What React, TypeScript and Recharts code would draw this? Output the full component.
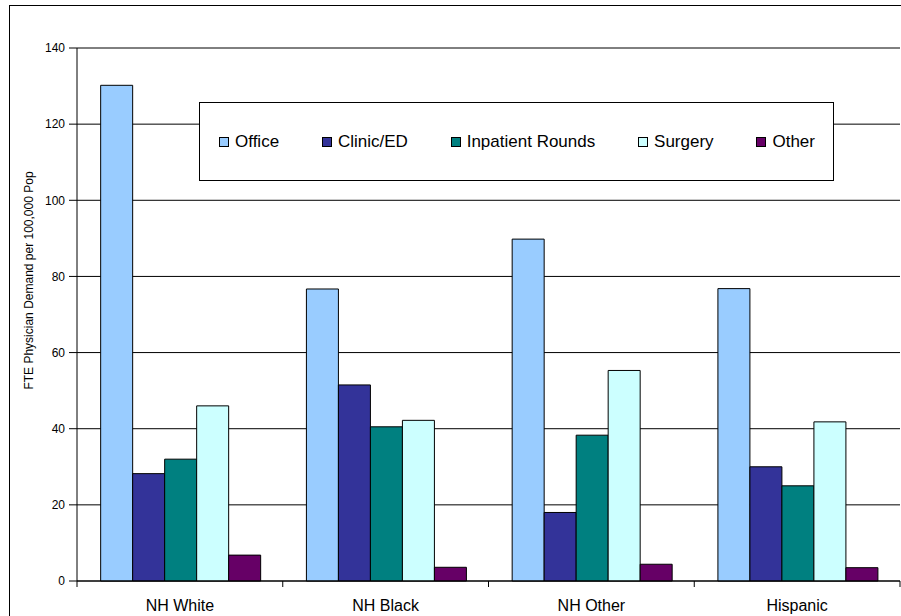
import React from "react"
import { Bar, BarChart, CartesianGrid, Legend, XAxis, YAxis } from "recharts"

const groups = ["NH White", "NH Black", "NH Other", "Hispanic"]
const office = [130.2, 76.7, 89.8, 76.8]
const clinic = [28.2, 51.5, 18.0, 30.0]
const inpatient = [32.0, 40.5, 38.3, 25.0]
const surgery = [46.0, 42.2, 55.3, 41.8]
const other = [6.8, 3.6, 4.4, 3.5]
const yTicks = [0, 20, 40, 60, 80, 100, 120, 140]

const seriesList = [
    { key: "Office", values: office, color: "#99CCFF" },
    { key: "Clinic/ED", values: clinic, color: "#333399" },
    { key: "Inpatient Rounds", values: inpatient, color: "#008080" },
    { key: "Surgery", values: surgery, color: "#CCFFFF" },
    { key: "Other", values: other, color: "#660066" },
]

const rows = groups.map((name, i) => {
    const row: Record<string, string | number> = { name }
    seriesList.forEach(s => { row[s.key] = s.values[i] })
    return row
})

const FONT = "'Liberation Sans', Arial, sans-serif"

const CategoryTick = (props: any) => {
    const { x, y, payload, index, visibleTicksCount } = props
    const half = payload?.offset ?? 102.875
    return (
        <g>
            <line x1={x - half} x2={x - half} y1={y} y2={y + 6} stroke="#000" />
            {index === visibleTicksCount - 1 &&
                <line x1={x + half} x2={x + half} y1={y} y2={y + 6} stroke="#000" />}
            <text x={x} y={y + 30} textAnchor="middle" fontSize={16} fontFamily={FONT} fill="#000">
                {payload.value}
            </text>
        </g>
    )
}

const LegendBox = () => (
    <div style={{
        boxSizing: "border-box", width: "100%", height: "100%", background: "#fff",
        border: "1px solid #000", display: "flex", alignItems: "center",
        justifyContent: "space-between", padding: "0 18px 0 19px", fontFamily: FONT, fontSize: 17, color: "#000",
    }}>
        {seriesList.map(s => (
            <div key={s.key} style={{ display: "flex", alignItems: "center" }}>
                <span style={{ boxSizing: "border-box", width: 10, height: 10, background: s.color, border: "1px solid #000", marginRight: 6 }} />
                <span>{s.key}</span>
            </div>
        ))}
    </div>
)

const YLabel = (props: any) => {
    const vb = props.viewBox
    const cx = vb.x + 33
    const cy = vb.y + vb.height / 2 - 34
    return (
        <text x={cx} y={cy} transform={`rotate(-90, ${cx}, ${cy})`} textAnchor="middle"
            fontSize={12} fontFamily={FONT} fill="#000">
            FTE Physician Demand per 100,000 Pop
        </text>
    )
}

const App = () => {
    return (
        <div style={{ position: "absolute", left: 0, top: 0, width: 901, height: 616, overflow: "hidden", background: "#fff" }}>
            <div style={{ position: "absolute", left: 9, top: 5, width: 1200, height: 1200, borderLeft: "1px solid #000", borderTop: "1px solid #000" }} />
            <BarChart
                width={901}
                height={616}
                data={rows}
                margin={{ top: 48, right: 1, left: 0, bottom: 0 }}
                barCategoryGap="11.5%"
                barGap={0}
                style={{ position: "absolute", left: 0, top: 0 }}
            >
                <CartesianGrid horizontal vertical={false} stroke="#000" strokeOpacity={1} />
                <XAxis dataKey="name" height={35} tickSize={0} tickMargin={0} tickLine={false}
                    axisLine={{ stroke: "#000" }} tick={<CategoryTick />} interval={0} />
                <YAxis width={77} domain={[0, 140]} ticks={yTicks} interval={0} tickSize={8} tickMargin={4}
                    axisLine={{ stroke: "#000" }} tickLine={{ stroke: "#000" }}
                    tick={{ fill: "#000", fontSize: 12, fontFamily: FONT }}
                    label={<YLabel />} />
                <YAxis yAxisId="r" orientation="right" width={0} domain={[0, 140]} type="number"
                    tick={false} tickLine={false} axisLine={{ stroke: "#000" }} />
                <Legend layout="horizontal" align="center" verticalAlign="middle"
                    content={<LegendBox />}
                    wrapperStyle={{ left: 199, top: 102, width: 635, height: 79 }} />
                {seriesList.map(s => (
                    <Bar key={s.key} dataKey={s.key} fill={s.color} stroke="#000" strokeWidth={1} isAnimationActive={false} />
                ))}
            </BarChart>
        </div>
    )
}

export default App
